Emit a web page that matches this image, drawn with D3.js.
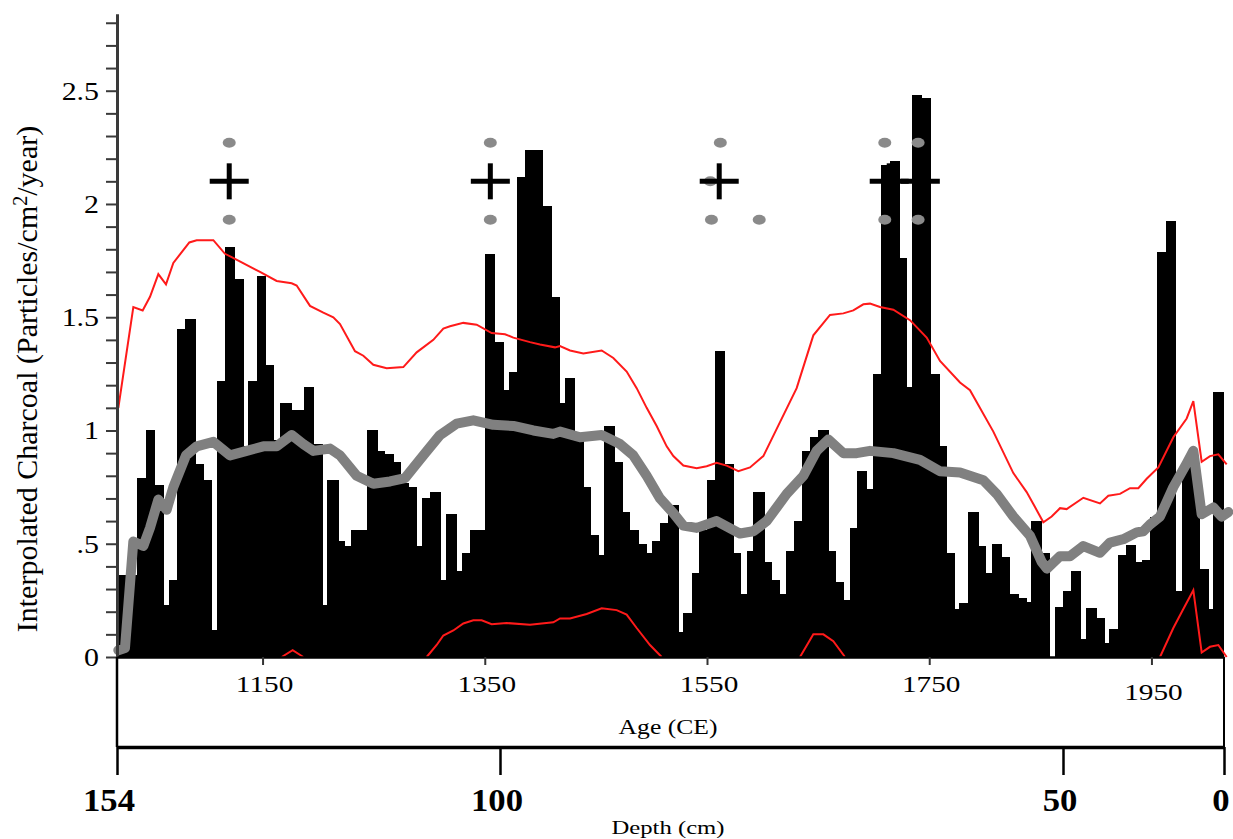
<!DOCTYPE html>
<html>
<head>
<meta charset="utf-8">
<script src="https://cdn.jsdelivr.net/npm/d3@7"></script>
<style>
  body { margin: 0; background: #fff; }
  svg { display: block; }
  text { font-family: "Liberation Serif", "Times New Roman", serif; fill: #000; }
</style>
</head>
<body>
<svg id="chart" width="1233" height="839"></svg>
<script>
// left edge (age CE) of every charcoal sample, last entry = right edge of last sample
const binAges = [
  1019.0, 1037.0, 1044.8, 1053.2, 1060.7, 1065.8, 1073.3, 1080.2, 1089.8, 1096.7,
  1104.2, 1108.7, 1116.2, 1125.2, 1132.7, 1137.2, 1144.7, 1152.8, 1159.7, 1165.7,
  1176.5, 1187.3, 1196.3, 1203.8, 1208.3, 1218.2, 1224.2, 1229.3, 1243.7, 1253.6,
  1260.2, 1267.7, 1274.3, 1281.2, 1288.7, 1293.8, 1300.7, 1310.6, 1315.1, 1324.7,
  1329.2, 1336.7, 1350.2, 1359.2, 1366.7, 1372.1, 1378.7, 1386.2, 1393.7, 1402.1,
  1410.2, 1417.7, 1422.2, 1431.2, 1438.7, 1445.6, 1452.2, 1457.3, 1467.2, 1474.1,
  1480.7, 1488.2, 1495.7, 1500.2, 1507.7, 1515.2, 1524.2, 1528.7, 1536.2, 1543.1,
  1549.7, 1557.2, 1566.2, 1573.7, 1580.3, 1585.7, 1591.7, 1602.2, 1608.2, 1615.7,
  1621.1, 1628.3, 1635.2, 1642.7, 1650.2, 1659.2, 1665.8, 1673.3, 1678.7, 1684.7,
  1693.7, 1699.1, 1706.3, 1714.7, 1723.1, 1729.7, 1734.2, 1743.2, 1751.3, 1759.1,
  1765.7, 1772.6, 1777.1, 1785.2, 1794.2, 1801.1, 1806.2, 1815.2, 1822.7, 1830.2,
  1837.7, 1841.3, 1851.2, 1858.1, 1863.2, 1870.1, 1877.3, 1886.3, 1891.1, 1900.7,
  1907.6, 1912.1, 1919.6, 1927.1, 1936.1, 1941.8, 1948.7, 1955.3, 1962.8, 1972.1,
  1977.2, 1986.2, 1993.7, 2001.2, 2005.1, 2015.3
];
// interpolated charcoal (particles/cm2/year) of each sample
const charcoal = [
  0.36, 0.79, 1.00, 0.76, 0.23, 0.34, 1.45, 1.49, 0.85, 0.78,
  0.12, 1.22, 1.81, 1.67, 0.93, 1.22, 1.68, 1.29, 0.96, 1.12,
  1.09, 1.19, 0.94, 0.23, 0.78, 0.51, 0.49, 0.56, 1.00, 0.91,
  0.895, 0.86, 0.77, 0.75, 0.49, 0.70, 0.73, 0.34, 0.63, 0.38,
  0.46, 0.56, 1.78, 1.39, 1.18, 1.26, 2.12, 2.24, 2.24, 1.99,
  1.59, 1.12, 1.23, 0.97, 0.75, 0.54, 0.45, 1.02, 0.86, 0.64,
  0.56, 0.50, 0.46, 0.51, 0.59, 0.67, 0.11, 0.195, 0.37, 0.56,
  0.78, 1.35, 0.85, 0.46, 0.28, 0.47, 0.73, 0.42, 0.34, 0.28,
  0.47, 0.60, 0.91, 0.97, 1.00, 0.47, 0.33, 0.25, 0.57, 0.82,
  0.74, 1.25, 2.17, 2.19, 1.76, 1.19, 2.48, 2.47, 1.25, 0.93,
  0.46, 0.21, 0.24, 0.64, 0.49, 0.37, 0.50, 0.44, 0.28, 0.26,
  0.245, 0.60, 0.46, 0.00, 0.22, 0.29, 0.38, 0.08, 0.215, 0.17,
  0.06, 0.125, 0.45, 0.495, 0.42, 0.43, 0.62, 1.79, 1.925, 0.29,
  0.86, 0.84, 0.39, 0.21, 1.17
];

// smoothed background (grey line)
const bgAges = [
  1020.2, 1026.2, 1033.7, 1042.7, 1048.7, 1056.2, 1063.7, 1069.7, 1081.1, 1090.7,
  1105.7, 1120.7, 1135.7, 1150.7, 1162.7, 1176.2, 1186.7, 1195.7, 1210.7, 1219.7,
  1234.7, 1249.7, 1264.7, 1278.2, 1294.7, 1309.7, 1324.7, 1339.7, 1357.7, 1375.7,
  1393.7, 1411.7, 1417.7, 1435.7, 1455.2, 1471.7, 1483.7, 1495.7, 1507.7, 1519.7,
  1528.7, 1540.7, 1558.7, 1579.7, 1591.7, 1603.7, 1621.7, 1636.7, 1648.7, 1659.2,
  1672.7, 1684.7, 1696.7, 1717.7, 1741.7, 1759.7, 1777.7, 1798.7, 1810.7, 1825.7,
  1840.7, 1851.2, 1856.0, 1867.7, 1876.7, 1888.7, 1903.7, 1912.7, 1924.7, 1936.7,
  1942.7, 1948.7, 1957.7, 1969.7, 1981.7, 1987.7, 1995.2, 2005.7, 2013.2, 2019.2
];
const bgValues = [
  0.03, 0.04, 0.51, 0.49, 0.57, 0.695, 0.65, 0.75, 0.89, 0.93,
  0.95, 0.89, 0.91, 0.93, 0.93, 0.98, 0.94, 0.91, 0.92, 0.89,
  0.80, 0.765, 0.775, 0.79, 0.89, 0.98, 1.03, 1.045, 1.025, 1.02,
  1.00, 0.985, 0.995, 0.97, 0.98, 0.94, 0.89, 0.80, 0.70, 0.635,
  0.58, 0.57, 0.60, 0.545, 0.555, 0.60, 0.72, 0.80, 0.91, 0.96,
  0.90, 0.90, 0.91, 0.90, 0.87, 0.82, 0.815, 0.78, 0.72, 0.62,
  0.535, 0.42, 0.39, 0.445, 0.445, 0.49, 0.46, 0.505, 0.52, 0.55,
  0.555, 0.585, 0.62, 0.75, 0.855, 0.91, 0.63, 0.66, 0.62, 0.64
];

// upper confidence line (red)
const upperAges = [
  1020.2, 1033.7, 1042.1, 1048.7, 1056.2, 1063.1, 1069.7, 1084.1, 1090.7, 1105.7,
  1116.2, 1122.2, 1147.7, 1162.7, 1176.2, 1180.7, 1192.7, 1204.7, 1213.7, 1219.7,
  1233.2, 1240.7, 1249.7, 1261.7, 1276.7, 1288.7, 1303.7, 1312.7, 1318.7, 1330.7,
  1342.7, 1356.2, 1368.2, 1375.7, 1390.7, 1399.7, 1413.2, 1417.7, 1426.7, 1438.7,
  1455.2, 1465.7, 1477.7, 1486.7, 1495.7, 1504.7, 1513.7, 1519.7, 1528.7, 1540.7,
  1549.7, 1558.7, 1567.7, 1578.2, 1588.7, 1600.7, 1615.7, 1630.7, 1645.7, 1660.7,
  1672.7, 1681.7, 1690.7, 1696.7, 1705.7, 1717.7, 1732.7, 1747.7, 1759.7, 1777.7,
  1786.7, 1807.7, 1825.7, 1837.7, 1845.2, 1852.7, 1860.2, 1867.7, 1873.7, 1888.7,
  1903.7, 1911.2, 1921.7, 1930.7, 1938.2, 1945.7, 1956.2, 1969.7, 1981.7, 1987.7,
  1995.2, 2002.7, 2010.2, 2017.7
];
const upperValues = [
  1.10, 1.545, 1.53, 1.59, 1.69, 1.645, 1.74, 1.83, 1.84, 1.84,
  1.78, 1.765, 1.70, 1.66, 1.65, 1.64, 1.55, 1.52, 1.50, 1.47,
  1.35, 1.33, 1.29, 1.275, 1.28, 1.345, 1.40, 1.45, 1.46, 1.475,
  1.467, 1.43, 1.425, 1.41, 1.39, 1.38, 1.367, 1.373, 1.353, 1.34,
  1.353, 1.32, 1.26, 1.187, 1.10, 1.02, 0.93, 0.887, 0.845, 0.833,
  0.842, 0.857, 0.845, 0.82, 0.837, 0.887, 1.037, 1.187, 1.42, 1.51,
  1.517, 1.53, 1.557, 1.56, 1.545, 1.533, 1.487, 1.41, 1.307, 1.212,
  1.178, 0.995, 0.812, 0.728, 0.662, 0.595, 0.62, 0.657, 0.653, 0.703,
  0.678, 0.712, 0.72, 0.745, 0.745, 0.787, 0.837, 0.97, 1.053, 1.13,
  0.862, 0.887, 0.895, 0.85
];

// lower confidence line (red), only where it is above zero; null = break
const lowerAges = [
  1167.2, 1177.1, 1186.7, null,
  1297.7, 1306.7, 1312.7, 1321.7, 1330.7, 1339.7, 1347.2, 1356.2, 1369.7, 1390.7,
  1411.7, 1417.7, 1426.7, 1441.7, 1455.2, 1468.7, 1477.7, 1486.7, 1498.7, 1509.2, null,
  1633.7, 1645.7, 1654.7, 1663.7, 1674.2, null,
  1957.7, 1969.7, 1978.7, 1987.7, 1995.2, 2002.7, 2010.2, 2017.7
];
const lowerValues = [
  0, 0.03, 0, null,
  0, 0.053, 0.095, 0.117, 0.148, 0.162, 0.162, 0.145, 0.15, 0.142,
  0.153, 0.17, 0.17, 0.19, 0.215, 0.207, 0.187, 0.128, 0.053, 0, null,
  0, 0.10, 0.10, 0.07, 0, null,
  0, 0.128, 0.212, 0.295, 0.02, 0.045, 0.053, 0
];

// fire-history markers
const plusAges = [1120, 1355, 1561, 1714, 1742];
const plusLevel = 2.10;
const dotAges = [1120, 1120, 1355, 1355, 1562, 1553, 1554, 1597, 1710, 1740, 1710, 1740];
const dotLevels = [2.27, 1.93, 2.27, 1.93, 2.27, 2.10, 1.93, 1.93, 2.27, 2.27, 1.93, 1.93];

// axes
const yMinorTicks = d3.range(0, 29).map(i => i / 10);
const yTickValues = [0, 0.5, 1, 1.5, 2, 2.5];
const yTickLabels = ["0", ".5", "1", "1.5", "2", "2.5"];
const ageTicks = [1150, 1350, 1550, 1750, 1950];
const depthTicks = [154, 100, 50, 0];

const svg = d3.select("#chart");

const x = d3.scaleLinear().domain([1019, 2015.3]).range([117, 1224]);
const y = d3.scaleLinear().domain([0, 2.84]).range([657, 13.7]);
const depth = d3.scaleLinear().domain([154, 100, 50, 0]).range([117, 500, 1063, 1224]);

// stretched serif text, like the original figure
function label(g, px, py, str, size, sx, anchor, weight) {
  const t = g.append("g")
    .attr("transform", "translate(" + px + "," + py + ") scale(" + sx + ",1)")
    .append("text")
    .attr("text-anchor", anchor || "middle")
    .style("font-size", size + "px")
    .text(str);
  if (weight) t.style("font-weight", weight);
  return t;
}

// bars
const bars = charcoal.map((v, i) => ({ a0: binAges[i], a1: binAges[i + 1], v: v }));
svg.append("g").selectAll("rect")
  .data(bars)
  .join("rect")
  .attr("x", d => x(d.a0))
  .attr("width", d => x(d.a1) - x(d.a0) + 0.3)
  .attr("y", d => y(d.v))
  .attr("height", d => y(0) - y(d.v))
  .attr("fill", "#000")
  .attr("shape-rendering", "crispEdges");

// lines
const line = d3.line()
  .defined(d => d[0] != null)
  .x(d => x(d[0]))
  .y(d => y(d[1]));

svg.append("path")
  .attr("d", line(upperAges.map((a, i) => [a, upperValues[i]])))
  .attr("fill", "none")
  .attr("stroke", "#ff1a1a")
  .attr("stroke-width", 2);

svg.append("path")
  .attr("d", line(lowerAges.map((a, i) => [a, lowerValues[i]])))
  .attr("fill", "none")
  .attr("stroke", "#ff1a1a")
  .attr("stroke-width", 2);

svg.append("path")
  .attr("d", line(bgAges.map((a, i) => [a, bgValues[i]])))
  .attr("fill", "none")
  .attr("stroke", "#808080")
  .attr("stroke-width", 10)
  .attr("stroke-linejoin", "round")
  .attr("stroke-linecap", "round");

// markers
svg.append("g").selectAll("ellipse")
  .data(dotAges.map((a, i) => [a, dotLevels[i]]))
  .join("ellipse")
  .attr("cx", d => x(d[0]))
  .attr("cy", d => y(d[1]))
  .attr("rx", 6.5)
  .attr("ry", 5)
  .attr("fill", "#8a8a8a");

const plus = svg.append("g").selectAll("g")
  .data(plusAges)
  .join("g")
  .attr("transform", d => "translate(" + x(d) + "," + y(plusLevel) + ")");
plus.append("line").attr("x1", -19.5).attr("x2", 19.5)
  .attr("stroke", "#000").attr("stroke-width", 5);
plus.append("line").attr("y1", -18).attr("y2", 18)
  .attr("stroke", "#000").attr("stroke-width", 5);

// y axis
const yAxis = svg.append("g")
  .attr("transform", "translate(117,0)")
  .call(d3.axisLeft(y).tickValues(yMinorTicks).tickSize(11).tickSizeOuter(0).tickFormat(""));
yAxis.select(".domain").attr("stroke", "#3a3a3a").attr("stroke-width", 3);
yAxis.selectAll(".tick line").attr("stroke", "#3a3a3a").attr("stroke-width", 2);

yTickValues.forEach((v, i) => {
  label(svg, 99, y(v) + 9, yTickLabels[i], 26, 1.15, "end");
});

const yLab = svg.append("g")
  .attr("transform", "translate(37,379) rotate(-90)")
  .append("text")
  .attr("text-anchor", "middle")
  .style("font-size", "30px");
yLab.append("tspan").text("Interpolated Charcoal (Particles/cm");
yLab.append("tspan").attr("dy", -10).style("font-size", "20px").text("2");
yLab.append("tspan").attr("dy", 10).text("/year)");

// age axis
const ageAxis = svg.append("g")
  .attr("transform", "translate(0,657)")
  .call(d3.axisBottom(x).tickValues(ageTicks).tickSize(8).tickSizeOuter(0).tickFormat(""));
ageAxis.select(".domain").attr("stroke", "#000").attr("stroke-width", 2.5);
ageAxis.selectAll(".tick line").attr("stroke", "#333").attr("stroke-width", 2);

ageTicks.forEach(a => {
  label(svg, x(a) + 2, a === 1950 ? 700 : 692, String(a), 24, 1.22);
});
label(svg, 668, 734, "Age (CE)", 21, 1.22);

// box sides between the two axes
svg.append("line").attr("x1", 117).attr("x2", 117).attr("y1", 657).attr("y2", 747)
  .attr("stroke", "#000").attr("stroke-width", 2.5);
svg.append("line").attr("x1", 1224).attr("x2", 1224).attr("y1", 657).attr("y2", 747)
  .attr("stroke", "#000").attr("stroke-width", 2);

// depth axis
const depthAxis = svg.append("g")
  .attr("transform", "translate(0,747)")
  .call(d3.axisBottom(depth).tickValues(depthTicks).tickSize(28).tickSizeOuter(0).tickFormat(""));
depthAxis.select(".domain").attr("stroke", "#000").attr("stroke-width", 3.5);
depthAxis.selectAll(".tick line").attr("stroke", "#000").attr("stroke-width", 2.5);

depthTicks.forEach(d => {
  label(svg, d === 154 ? depth(d) - 8 : depth(d) - 3, 811, String(d), 31, 1.12, "middle", "bold");
});
label(svg, 668, 834, "Depth (cm)", 19, 1.3);
</script>
</body>
</html>
